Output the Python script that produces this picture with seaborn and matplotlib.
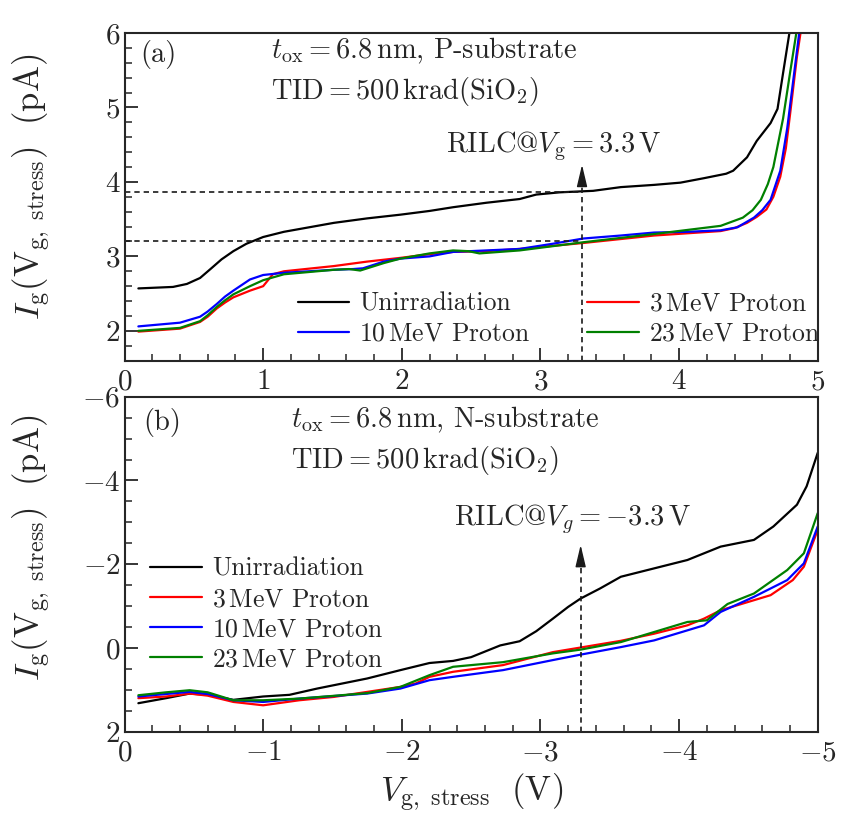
import numpy as np
import pandas as pd
import matplotlib
matplotlib.use("Agg")
import matplotlib.pyplot as plt
from matplotlib.ticker import MultipleLocator
import seaborn as sns

# ---------------- data ----------------
series_names = ["Unirradiation", r"3$\,$MeV Proton", r"10$\,$MeV Proton", r"23$\,$MeV Proton"]
series_colors = ["#000000", "#ff0000", "#0000ff", "#008000"]

# (a) P-substrate
a_unirr_x = [0.10, 0.35, 0.45, 0.545, 0.62, 0.70, 0.785, 0.88, 1.00, 1.15, 1.27, 1.51, 1.75, 1.99, 2.20, 2.37, 2.61, 2.85, 2.97, 3.14, 3.38, 3.58, 3.82, 4.01, 4.18, 4.34, 4.39, 4.49, 4.56, 4.66, 4.71, 4.75, 4.80]
a_unirr_y = [2.57, 2.59, 2.63, 2.71, 2.83, 2.96, 3.07, 3.17, 3.26, 3.33, 3.37, 3.45, 3.51, 3.56, 3.61, 3.66, 3.72, 3.77, 3.83, 3.86, 3.88, 3.93, 3.96, 3.99, 4.05, 4.11, 4.15, 4.33, 4.55, 4.79, 4.98, 5.46, 6.05]

a_3mev_x = [0.10, 0.40, 0.545, 0.60, 0.665, 0.725, 0.785, 0.905, 1.00, 1.07, 1.15, 1.51, 1.75, 1.99, 2.20, 2.37, 2.61, 2.85, 3.31, 3.82, 4.30, 4.40, 4.49, 4.56, 4.63, 4.68, 4.73, 4.77, 4.80, 4.85, 4.88]
a_3mev_y = [1.99, 2.03, 2.12, 2.19, 2.30, 2.38, 2.45, 2.54, 2.60, 2.76, 2.80, 2.87, 2.93, 2.98, 3.03, 3.06, 3.07, 3.10, 3.18, 3.28, 3.34, 3.38, 3.45, 3.53, 3.63, 3.80, 4.07, 4.45, 4.90, 5.68, 6.05]

a_10mev_x = [0.10, 0.40, 0.545, 0.60, 0.665, 0.725, 0.785, 0.905, 1.00, 1.15, 1.51, 1.65, 1.72, 1.87, 1.99, 2.20, 2.37, 2.61, 2.85, 3.09, 3.31, 3.58, 3.82, 4.06, 4.30, 4.42, 4.54, 4.60, 4.66, 4.73, 4.78, 4.83, 4.87]
a_10mev_y = [2.06, 2.11, 2.19, 2.26, 2.36, 2.46, 2.54, 2.69, 2.75, 2.78, 2.82, 2.83, 2.84, 2.93, 2.97, 3.00, 3.06, 3.08, 3.10, 3.17, 3.24, 3.28, 3.32, 3.33, 3.35, 3.39, 3.52, 3.62, 3.76, 4.15, 4.72, 5.46, 6.05]

a_23mev_x = [0.10, 0.40, 0.545, 0.60, 0.665, 0.725, 0.785, 0.905, 1.00, 1.15, 1.51, 1.62, 1.70, 1.87, 1.99, 2.20, 2.37, 2.48, 2.56, 2.85, 3.31, 3.82, 4.30, 4.46, 4.53, 4.59, 4.64, 4.68, 4.75, 4.80, 4.85]
a_23mev_y = [2.00, 2.04, 2.13, 2.21, 2.32, 2.41, 2.49, 2.60, 2.68, 2.76, 2.82, 2.83, 2.81, 2.91, 2.97, 3.04, 3.08, 3.07, 3.04, 3.08, 3.19, 3.30, 3.41, 3.52, 3.62, 3.76, 3.97, 4.20, 4.85, 5.46, 6.05]

# (b) N-substrate
b_unirr_x = [-0.10, -0.30, -0.47, -0.60, -0.785, -1.00, -1.19, -1.39, -1.75, -1.99, -2.20, -2.37, -2.50, -2.59, -2.71, -2.85, -2.97, -3.09, -3.20, -3.29, -3.43, -3.58, -3.82, -4.06, -4.30, -4.54, -4.68, -4.85, -4.92, -5.00]
b_unirr_y = [1.32, 1.20, 1.09, 1.12, 1.24, 1.16, 1.12, 0.97, 0.73, 0.53, 0.36, 0.31, 0.22, 0.10, -0.06, -0.16, -0.40, -0.70, -0.98, -1.18, -1.42, -1.70, -1.90, -2.10, -2.42, -2.58, -2.90, -3.42, -3.86, -4.66]

b_3mev_x = [-0.10, -0.30, -0.47, -0.60, -0.785, -1.00, -1.26, -1.51, -1.75, -1.99, -2.10, -2.20, -2.37, -2.73, -3.09, -3.29, -3.58, -3.82, -4.06, -4.18, -4.30, -4.54, -4.66, -4.82, -4.90, -5.00]
b_3mev_y = [1.20, 1.16, 1.09, 1.14, 1.29, 1.37, 1.25, 1.17, 1.05, 0.93, 0.85, 0.69, 0.57, 0.41, 0.10, -0.01, -0.17, -0.34, -0.54, -0.70, -0.90, -1.14, -1.26, -1.62, -1.94, -2.82]

b_10mev_x = [-0.10, -0.30, -0.47, -0.60, -0.785, -1.00, -1.26, -1.75, -1.99, -2.20, -2.37, -2.73, -3.09, -3.29, -3.58, -3.82, -4.06, -4.18, -4.30, -4.54, -4.78, -4.90, -5.00]
b_10mev_y = [1.16, 1.10, 1.05, 1.10, 1.25, 1.29, 1.21, 1.09, 0.97, 0.77, 0.69, 0.53, 0.29, 0.16, -0.02, -0.18, -0.42, -0.54, -0.86, -1.22, -1.62, -2.02, -2.90]

b_23mev_x = [-0.10, -0.30, -0.47, -0.60, -0.785, -1.00, -1.26, -1.75, -1.99, -2.20, -2.37, -2.73, -3.09, -3.29, -3.58, -3.82, -4.06, -4.20, -4.35, -4.54, -4.78, -4.90, -5.00]
b_23mev_y = [1.13, 1.06, 1.01, 1.06, 1.25, 1.25, 1.21, 1.08, 0.93, 0.65, 0.45, 0.34, 0.13, 0.04, -0.14, -0.38, -0.62, -0.66, -1.05, -1.30, -1.86, -2.26, -3.22]

# reference markers
rilc_a_x = 3.3
rilc_a_levels = [3.87, 3.20]
rilc_a_tip = 4.23
rilc_b_x = -3.29
rilc_b_tip = -2.46

# ---------------- style ----------------
sns.set_theme(style="ticks")
plt.rcParams.update({
    "font.family": ["cmr10", "DejaVu Serif"],
    "mathtext.fontset": "cm",
    "axes.formatter.use_mathtext": True,
    "axes.unicode_minus": True,
    "axes.linewidth": 1.5,
    "xtick.direction": "in",
    "ytick.direction": "in",
    "xtick.major.size": 9.5,
    "ytick.major.size": 9.5,
    "xtick.minor.size": 5,
    "ytick.minor.size": 5,
    "xtick.major.width": 1.3,
    "ytick.major.width": 1.3,
    "xtick.minor.width": 1.1,
    "ytick.minor.width": 1.1,
    "xtick.labelsize": 21,
    "ytick.labelsize": 21,
    "xtick.major.pad": 6,
    "ytick.major.pad": 3,
})

TXT = 20.5
LEG = 18.5
LAB = 25


def make_df(xs, ys):
    frames = []
    for name, x, y in zip(series_names, xs, ys):
        frames.append(pd.DataFrame({"V": x, "I": y, "series": name}))
    return pd.concat(frames, ignore_index=True)


df_a = make_df([a_unirr_x, a_3mev_x, a_10mev_x, a_23mev_x],
               [a_unirr_y, a_3mev_y, a_10mev_y, a_23mev_y])
df_b = make_df([b_unirr_x, b_3mev_x, b_10mev_x, b_23mev_x],
               [b_unirr_y, b_3mev_y, b_10mev_y, b_23mev_y])

palette = dict(zip(series_names, series_colors))

fig = plt.figure(figsize=(8.51, 8.21), dpi=100)
ax1 = fig.add_axes([0.1463, 0.5607, 0.8146, 0.3992])
ax2 = fig.add_axes([0.1463, 0.1088, 0.8146, 0.4080])

sns.lineplot(data=df_a, x="V", y="I", hue="series", hue_order=series_names,
             palette=palette, estimator=None, sort=False, lw=1.6, ax=ax1, legend=False)
sns.lineplot(data=df_b, x="V", y="I", hue="series", hue_order=series_names,
             palette=palette, estimator=None, sort=False, lw=1.6, ax=ax2, legend=False)

dash = (0, (3.2, 2.4))
head = "-|>,head_length=1.35,head_width=0.32"

# ---- panel (a) ----
ax1.set_xlim(0, 5)
ax1.set_ylim(1.6, 6)
ax1.xaxis.set_major_locator(MultipleLocator(1))
ax1.xaxis.set_minor_locator(MultipleLocator(0.2))
ax1.yaxis.set_major_locator(MultipleLocator(1))
ax1.yaxis.set_minor_locator(MultipleLocator(0.2))
for lvl in rilc_a_levels:
    ax1.plot([0, rilc_a_x], [lvl, lvl], color="k", lw=1.2, linestyle=dash)
ax1.plot([rilc_a_x, rilc_a_x], [1.6, rilc_a_tip - 0.2], color="k", lw=1.2, linestyle=dash)
ax1.annotate("", xy=(rilc_a_x, rilc_a_tip), xytext=(rilc_a_x, rilc_a_tip - 0.26),
             arrowprops=dict(arrowstyle=head, color="k", lw=1.0,
                             shrinkA=0, shrinkB=0, mutation_scale=10))
ax1.text(0.022, 0.978, "(a)", transform=ax1.transAxes, fontsize=TXT, va="top", ha="left")
ax1.text(1.06, 0.922, r"$t_{\rm ox}=6.8\,$nm, P-substrate", transform=ax1.get_xaxis_transform(),
         fontsize=TXT, va="baseline", ha="left")
ax1.text(1.06, 0.798, r"$\mathrm{TID}=500\,\mathrm{krad(SiO_2)}$", transform=ax1.get_xaxis_transform(),
         fontsize=TXT, va="baseline", ha="left")
ax1.text(2.32, 4.40, r"$\mathrm{RILC@}V_{\rm g}=3.3\,\mathrm{V}$", fontsize=TXT, va="baseline", ha="left")
ax1.set_xlabel("")
ax1.set_ylabel(r"$I_{\rm g}(\mathrm{V}_{\rm g,\ stress})\ \ (\mathrm{pA})$", fontsize=LAB)

lines_a = ax1.get_lines()[:4]
order = [0, 2, 1, 3]
ax1.legend([lines_a[i] for i in order], [series_names[i] for i in order], ncol=2,
           loc="lower left", bbox_to_anchor=(0.25, 0.045), frameon=False, fontsize=LEG,
           handlelength=2.0, handletextpad=0.4, columnspacing=2.2, labelspacing=0.25,
           borderpad=0, borderaxespad=0)

# ---- panel (b) ----
ax2.set_xlim(0, -5)
ax2.set_ylim(2, -6)
ax2.xaxis.set_major_locator(MultipleLocator(1))
ax2.xaxis.set_minor_locator(MultipleLocator(0.2))
ax2.yaxis.set_major_locator(MultipleLocator(2))
ax2.yaxis.set_minor_locator(MultipleLocator(0.5))
ax2.plot([rilc_b_x, rilc_b_x], [2, rilc_b_tip + 0.35], color="k", lw=1.2, linestyle=dash)
ax2.annotate("", xy=(rilc_b_x, rilc_b_tip), xytext=(rilc_b_x, rilc_b_tip + 0.45),
             arrowprops=dict(arrowstyle=head, color="k", lw=1.0,
                             shrinkA=0, shrinkB=0, mutation_scale=10))
ax2.text(0.027, 0.966, "(b)", transform=ax2.transAxes, fontsize=TXT, va="top", ha="left")
ax2.text(-1.2, 0.910, r"$t_{\rm ox}=6.8\,$nm, N-substrate", transform=ax2.get_xaxis_transform(),
         fontsize=TXT, va="baseline", ha="left")
ax2.text(-1.2, 0.786, r"$\mathrm{TID}=500\,\mathrm{krad(SiO_2)}$", transform=ax2.get_xaxis_transform(),
         fontsize=TXT, va="baseline", ha="left")
ax2.text(-2.38, -2.94, r"$\mathrm{RILC@}V_g=-3.3\,\mathrm{V}$", fontsize=TXT, va="baseline", ha="left")
ax2.set_xlabel(r"$V_{\rm g,\ stress}\ \ (\mathrm{V})$", fontsize=LAB, labelpad=4)
ax2.set_ylabel(r"$I_{\rm g}(\mathrm{V}_{\rm g,\ stress})\ \ (\mathrm{pA})$", fontsize=LAB)

lines_b = ax2.get_lines()[:4]
ax2.legend(lines_b, series_names, loc="upper left", bbox_to_anchor=(0.037, 0.521),
           frameon=False, fontsize=LEG, handlelength=2.0, handletextpad=0.4,
           labelspacing=0.25, borderpad=0, borderaxespad=0)

for ax in (ax1, ax2):
    ax.tick_params(which="both", top=False, right=False)
ax1.yaxis.set_label_coords(-0.103, 0.53)
ax2.yaxis.set_label_coords(-0.103, 0.55)

fig.savefig("out.png", dpi=100)
